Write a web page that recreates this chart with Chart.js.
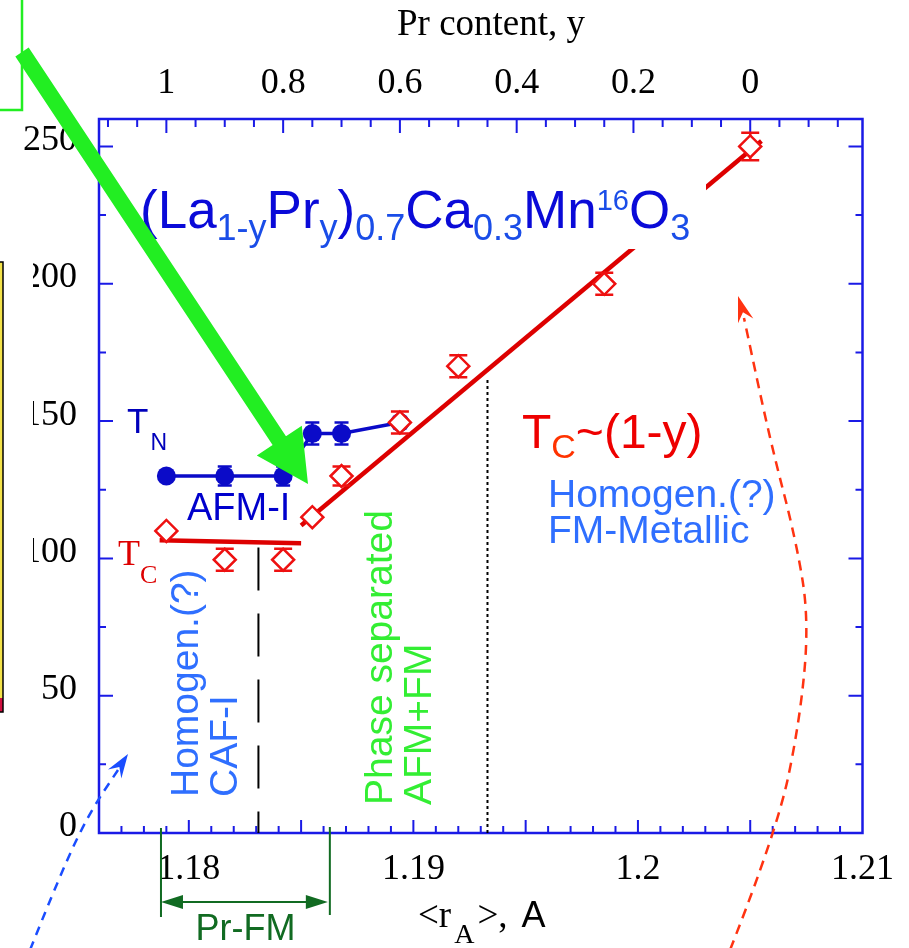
<!DOCTYPE html>
<html>
<head>
<meta charset="utf-8">
<script src="https://cdn.jsdelivr.net/npm/chart.js@4.4.1/dist/chart.umd.min.js"></script>
<style>
  html, body { margin: 0; padding: 0; background: #fff; }
  #wrap { width: 909px; height: 948px; }
</style>
</head>
<body>
<div id="wrap"><canvas id="phaseChart" width="909" height="948"></canvas></div>
<script>
// Pr content y of each sample and its mean A-site radius <r_A>
const prContent = [1, 0.9, 0.8, 0.75, 0.7, 0.6, 0.5, 0.25, 0];
const rAValues = [1.179, 1.1816, 1.1842, 1.1855, 1.1868, 1.1894, 1.192, 1.1985, 1.205];

// Curie temperature T_C (open diamonds) and its error bars
const tcValues = [110, 99.5, 99.5, 115, 130, 149.5, 170, 200, 250];
const tcErrors = [0, 4, 4, 0, 3.5, 4, 4, 4, 5];

// Neel temperature T_N (filled circles), Pr-rich side only
const tnRAValues = [1.179, 1.1816, 1.1842, 1.1855, 1.1868, 1.1894];
const tnValues = [130, 130, 130, 145.5, 145.5, 149.5];
const tnErrors = [0, 3.5, 3.5, 4, 4, 0];

// guide lines drawn through T_C
const tcFlatX = [1.1787, 1.185];
const tcFlatY = [106.6, 105.5];
const tcSlopeX = [1.185, 1.2055];
const tcSlopeY = [112, 252];

// tick labels
const rATickLabels = [1.18, 1.19, 1.2, 1.21];
const prTickLabels = [1, 0.8, 0.6, 0.4, 0.2, 0];
const tempTickLabels = [0, 50, 100, 150, 200, 250];

// top axis: <r_A> = RA_AT_Y0 - RA_PER_Y * y
const RA_AT_Y0 = 1.205;
const RA_PER_Y = 0.026;
const X_MIN = 1.176, X_MAX = 1.21;

// region borders (in <r_A>) and their top temperature
const caflBorder = 1.1831, caflTop = 104;
const fmBorder = 1.1933, fmTop = 165;
const prFmRange = [1.17876, 1.18628];

const AXIS_BLUE = '#1a1ae6';
const SERIF = "'Liberation Serif', 'Times New Roman', serif";
const SANS = "'Liberation Sans', Arial, sans-serif";

function toPoints(xs, ys) {
  return xs.map((x, i) => ({ x: x, y: ys[i] }));
}

function near(v, list, digits) {
  const r = Number(v.toFixed(digits));
  return Math.abs(v - r) < 1e-6 && list.includes(r) ? String(r) : null;
}

const errorBars = {
  id: 'errorBars',
  beforeDatasetDraw(chart, args) {
    const ds = chart.data.datasets[args.index];
    if (!ds.errors) return;
    const { ctx, scales: { x, y } } = chart;
    ctx.save();
    ctx.strokeStyle = ds.errorColor;
    ctx.lineWidth = 2.5;
    ds.data.forEach((p, i) => {
      const e = ds.errors[i];
      if (!e) return;
      const px = x.getPixelForValue(p.x);
      const top = y.getPixelForValue(p.y + e);
      const bot = y.getPixelForValue(p.y - e);
      ctx.beginPath();
      ctx.moveTo(px, top); ctx.lineTo(px, bot);
      ctx.moveTo(px - ds.capHalf, top); ctx.lineTo(px + ds.capHalf, top);
      ctx.moveTo(px - ds.capHalf, bot); ctx.lineTo(px + ds.capHalf, bot);
      ctx.stroke();
    });
    ctx.restore();
  }
};

// box with inward ticks on all four sides
const frameTicks = {
  id: 'frameTicks',
  beforeDatasetsDraw(chart) {
    const { ctx, chartArea: a, scales } = chart;
    ctx.save();
    ctx.strokeStyle = AXIS_BLUE;
    ctx.lineWidth = 2;
    ctx.beginPath();
    for (let i = 1177; i < 1210; i++) {
      const px = scales.x.getPixelForValue(i / 1000);
      const len = i % 5 === 0 ? 13 : 7;
      ctx.moveTo(px, a.bottom); ctx.lineTo(px, a.bottom - len);
    }
    for (let k = -3; k <= 22; k++) {
      const px = scales.x2.getPixelForValue(k * 0.05);
      const len = k % 4 === 0 ? 14 : 8;
      ctx.moveTo(px, a.top); ctx.lineTo(px, a.top + len);
    }
    for (let v = 25; v <= 250; v += 25) {
      const py = scales.y.getPixelForValue(v);
      const len = v % 50 === 0 ? 14 : 7;
      ctx.moveTo(a.left, py); ctx.lineTo(a.left + len, py);
      ctx.moveTo(a.right, py); ctx.lineTo(a.right - len, py);
    }
    ctx.stroke();
    ctx.lineWidth = 2.5;
    ctx.strokeRect(a.left, a.top, a.right - a.left, a.bottom - a.top);
    ctx.restore();
  }
};

function drawRuns(ctx, runs, x, y) {
  runs.forEach(r => {
    ctx.font = r.font;
    ctx.fillStyle = r.color;
    x += r.dx || 0;
    ctx.fillText(r.text, x, y + (r.dy || 0));
    x += ctx.measureText(r.text).width;
  });
  return x;
}

function rotatedText(ctx, text, x, y, font, color) {
  ctx.save();
  ctx.translate(x, y);
  ctx.rotate(-Math.PI / 2);
  ctx.font = font;
  ctx.fillStyle = color;
  ctx.fillText(text, 0, 0);
  ctx.restore();
}

function stealthHead(ctx, tipX, tipY, fromX, fromY, len, half, color) {
  const ang = Math.atan2(tipY - fromY, tipX - fromX);
  ctx.save();
  ctx.translate(tipX, tipY);
  ctx.rotate(ang);
  ctx.fillStyle = color;
  ctx.beginPath();
  ctx.moveTo(0, 0);
  ctx.lineTo(-len, -half);
  ctx.lineTo(-len * 0.65, 0);
  ctx.lineTo(-len, half);
  ctx.closePath();
  ctx.fill();
  ctx.restore();
}

function smoothPath(ctx, pts) {
  ctx.beginPath();
  ctx.moveTo(pts[0][0], pts[0][1]);
  for (let i = 1; i < pts.length - 1; i++) {
    const mx = (pts[i][0] + pts[i + 1][0]) / 2;
    const my = (pts[i][1] + pts[i + 1][1]) / 2;
    ctx.quadraticCurveTo(pts[i][0], pts[i][1], mx, my);
  }
  const last = pts[pts.length - 1];
  ctx.lineTo(last[0], last[1]);
}

const annotations = {
  id: 'annotations',
  afterDatasetsDraw(chart) {
    const { ctx, chartArea: a, scales: { x, y } } = chart;
    ctx.save();
    ctx.textBaseline = 'alphabetic';
    ctx.textAlign = 'left';

    // region borders
    ctx.strokeStyle = '#000';
    ctx.lineWidth = 2;
    ctx.setLineDash([43, 23]);
    ctx.beginPath();
    ctx.moveTo(x.getPixelForValue(caflBorder), y.getPixelForValue(caflTop));
    ctx.lineTo(x.getPixelForValue(caflBorder), a.bottom);
    ctx.stroke();
    ctx.setLineDash([3, 3]);
    ctx.beginPath();
    ctx.moveTo(x.getPixelForValue(fmBorder), y.getPixelForValue(fmTop));
    ctx.lineTo(x.getPixelForValue(fmBorder), a.bottom);
    ctx.stroke();
    ctx.setLineDash([]);

    // formula with white backing
    ctx.fillStyle = '#fff';
    ctx.fillRect(135, 176, 571, 73);
    const M = 'px ' + SANS, dark = '#0a0ad8', light = '#1a4de8';
    drawRuns(ctx, [
      { text: '(La', font: '53' + M, color: dark },
      { text: '1-y', font: '36' + M, color: light, dy: 12 },
      { text: 'Pr', font: '53' + M, color: dark },
      { text: 'y', font: '36' + M, color: light, dy: 12 },
      { text: ')', font: '53' + M, color: dark },
      { text: '0.7', font: '36' + M, color: light, dy: 12 },
      { text: 'Ca', font: '53' + M, color: dark },
      { text: '0.3', font: '36' + M, color: light, dy: 12 },
      { text: 'Mn', font: '53' + M, color: dark },
      { text: '16', font: '29' + M, color: light, dy: -18 },
      { text: 'O', font: '53' + M, color: dark },
      { text: '3', font: '36' + M, color: light, dy: 12 }
    ], 140, 228);

    // phase labels
    drawRuns(ctx, [
      { text: 'T', font: '35' + M, color: '#0000bb' },
      { text: 'N', font: '23' + M, color: '#0000bb', dy: 17, dx: 2 }
    ], 127, 433);
    ctx.font = '38' + M; ctx.fillStyle = '#0000cc';
    ctx.fillText('AFM-I', 187, 520);
    drawRuns(ctx, [
      { text: 'T', font: '36px ' + SERIF, color: '#dd0000' },
      { text: 'C', font: '26px ' + SERIF, color: '#dd0000', dy: 18 }
    ], 118, 565);
    drawRuns(ctx, [
      { text: 'T', font: '48' + M, color: '#ee0000' },
      { text: 'C', font: '34' + M, color: '#ff3300', dy: 10 },
      { text: '~(1-y)', font: '48' + M, color: '#ee0000' }
    ], 522, 448);
    const note = '39' + M;
    ctx.font = note; ctx.fillStyle = '#2f6fff';
    ctx.fillText('Homogen.(?)', 548, 507);
    ctx.fillText('FM-Metallic', 548, 543);
    rotatedText(ctx, 'Homogen.(?)', 198, 797, note, '#2f6fff');
    rotatedText(ctx, 'CAF-I', 237, 797, note, '#2f6fff');
    rotatedText(ctx, 'Phase separated', 392, 805, note, '#33ee33');
    rotatedText(ctx, 'AFM+FM', 431, 805, note, '#33ee33');

    // axis titles
    ctx.font = '37px ' + SERIF; ctx.fillStyle = '#000';
    ctx.fillText('Pr content, y', 397, 35);
    drawRuns(ctx, [
      { text: '<r', font: '37px ' + SERIF, color: '#000' },
      { text: 'A', font: '28px ' + SERIF, color: '#000', dy: 16, dx: 3 },
      { text: '>,', font: '37px ' + SERIF, color: '#000', dx: 3 },
      { text: 'A', font: '36' + M, color: '#000', dx: 14 }
    ], 418, 927);

    // Pr-FM bracket under the axis
    const g = '#116b22';
    const p0 = x.getPixelForValue(prFmRange[0]), p1 = x.getPixelForValue(prFmRange[1]);
    ctx.strokeStyle = g; ctx.fillStyle = g; ctx.lineWidth = 2;
    ctx.beginPath();
    ctx.moveTo(p0, 828); ctx.lineTo(p0, 917);
    ctx.moveTo(p1, 827); ctx.lineTo(p1, 915);
    ctx.moveTo(p0 + 10, 902); ctx.lineTo(p1 - 10, 902);
    ctx.stroke();
    ctx.beginPath();
    ctx.moveTo(p0, 902); ctx.lineTo(p0 + 22, 895); ctx.lineTo(p0 + 22, 909); ctx.closePath();
    ctx.moveTo(p1 - 2, 902); ctx.lineTo(p1 - 24, 895); ctx.lineTo(p1 - 24, 909); ctx.closePath();
    ctx.fill();
    ctx.font = '36' + M; ctx.textAlign = 'center';
    ctx.fillText('Pr-FM', (p0 + p1) / 2, 940);
    ctx.textAlign = 'left';

    // dashed curved arrows
    ctx.lineWidth = 2.5;
    ctx.strokeStyle = '#1a4dff';
    ctx.setLineDash([9, 7]);
    smoothPath(ctx, [[30, 950], [62, 870], [90, 812], [118, 770]]);
    ctx.stroke();
    ctx.setLineDash([]);
    stealthHead(ctx, 128, 754, 112, 778, 24, 8, '#1a4dff');

    ctx.strokeStyle = '#ff3311';
    ctx.setLineDash([10, 7]);
    smoothPath(ctx, [[730, 950], [777, 831], [800, 720], [809, 620], [796, 540], [770, 440], [744, 318]]);
    ctx.stroke();
    ctx.setLineDash([]);
    stealthHead(ctx, 738, 296, 746, 322, 26, 8, '#ff3311');

    // overlay boxes at the left edge
    ctx.fillStyle = '#fff';
    ctx.fillRect(0, 262, 33, 450);
    ctx.fillStyle = '#f3e24a';
    ctx.fillRect(-5, 262, 8, 450);
    ctx.fillStyle = '#d01040';
    ctx.fillRect(-5, 698, 8, 14);
    ctx.strokeStyle = '#000'; ctx.lineWidth = 1.5;
    ctx.strokeRect(-5, 262, 8, 450);

    ctx.strokeStyle = '#22ee22'; ctx.lineWidth = 2.5;
    ctx.beginPath();
    ctx.moveTo(22, 0); ctx.lineTo(22, 110); ctx.lineTo(0, 110);
    ctx.stroke();

    // big green arrow
    const tail = [22, 52], tip = [308, 484];
    const dx = tip[0] - tail[0], dy = tip[1] - tail[1];
    const L = Math.hypot(dx, dy), ux = dx / L, uy = dy / L, nx = -uy, ny = ux;
    const hb = [tip[0] - ux * 52, tip[1] - uy * 52];
    ctx.fillStyle = '#22ee22';
    ctx.beginPath();
    ctx.moveTo(tail[0] + nx * 8, tail[1] + ny * 8);
    ctx.lineTo(hb[0] + nx * 8, hb[1] + ny * 8);
    ctx.lineTo(hb[0] + nx * 27, hb[1] + ny * 27);
    ctx.lineTo(tip[0], tip[1]);
    ctx.lineTo(hb[0] - nx * 27, hb[1] - ny * 27);
    ctx.lineTo(hb[0] - nx * 8, hb[1] - ny * 8);
    ctx.lineTo(tail[0] - nx * 8, tail[1] - ny * 8);
    ctx.closePath();
    ctx.fill();
    ctx.restore();
  }
};

const tickFont = { family: SERIF, size: 36 };

new Chart(document.getElementById('phaseChart'), {
  type: 'scatter',
  data: {
    datasets: [
      {
        label: 'T_C',
        data: toPoints(rAValues, tcValues),
        pointStyle: 'rectRot',
        pointRadius: 11,
        pointBorderWidth: 2.5,
        borderColor: '#ee1111',
        backgroundColor: '#ffffff',
        showLine: false,
        errors: tcErrors,
        errorColor: '#ee1111',
        capHalf: 9,
        order: 0
      },
      {
        label: 'T_N',
        data: toPoints(tnRAValues, tnValues),
        pointStyle: 'circle',
        pointRadius: 9.5,
        pointBorderWidth: 0,
        pointBackgroundColor: '#0b0bc8',
        borderColor: '#0b0bc8',
        borderWidth: 3.5,
        showLine: true,
        errors: tnErrors,
        errorColor: '#0b0bc8',
        capHalf: 7,
        order: 1
      },
      {
        label: 'T_C flat',
        data: toPoints(tcFlatX, tcFlatY),
        pointRadius: 0,
        borderColor: '#dd0000',
        borderWidth: 4.5,
        showLine: true,
        order: 2
      },
      {
        label: 'T_C slope',
        data: toPoints(tcSlopeX, tcSlopeY),
        pointRadius: 0,
        borderColor: '#dd0000',
        borderWidth: 4.5,
        showLine: true,
        order: 2
      }
    ]
  },
  options: {
    responsive: false,
    devicePixelRatio: 1,
    animation: false,
    layout: { padding: { left: 0, right: 43, top: 0, bottom: 0 } },
    plugins: { legend: { display: false }, tooltip: { enabled: false } },
    scales: {
      x: {
        type: 'linear', position: 'bottom', min: X_MIN, max: X_MAX,
        grid: { display: false, drawTicks: false }, border: { display: false },
        ticks: {
          stepSize: 0.01, includeBounds: false, padding: 15, autoSkip: false, maxRotation: 0,
          color: '#000', font: tickFont,
          callback: v => near(v, rATickLabels, 2)
        },
        afterFit: s => { s.height = 115; }
      },
      x2: {
        type: 'linear', position: 'top', reverse: true,
        min: (RA_AT_Y0 - X_MAX) / RA_PER_Y, max: (RA_AT_Y0 - X_MIN) / RA_PER_Y,
        grid: { display: false, drawTicks: false }, border: { display: false },
        ticks: {
          stepSize: 0.2, includeBounds: false, padding: 14, autoSkip: false, maxRotation: 0,
          color: '#000', font: tickFont,
          callback: v => near(v, prTickLabels, 1)
        },
        afterFit: s => { s.height = 119; }
      },
      y: {
        type: 'linear', position: 'left', min: 0, max: 260,
        grid: { display: false, drawTicks: false }, border: { display: false },
        ticks: {
          stepSize: 50, includeBounds: false, padding: 22, labelOffset: -6,
          color: '#000', font: tickFont,
          callback: v => near(v, tempTickLabels, 0)
        },
        afterFit: s => { s.width = 99; }
      }
    }
  },
  plugins: [frameTicks, errorBars, annotations]
});
</script>
</body>
</html>
